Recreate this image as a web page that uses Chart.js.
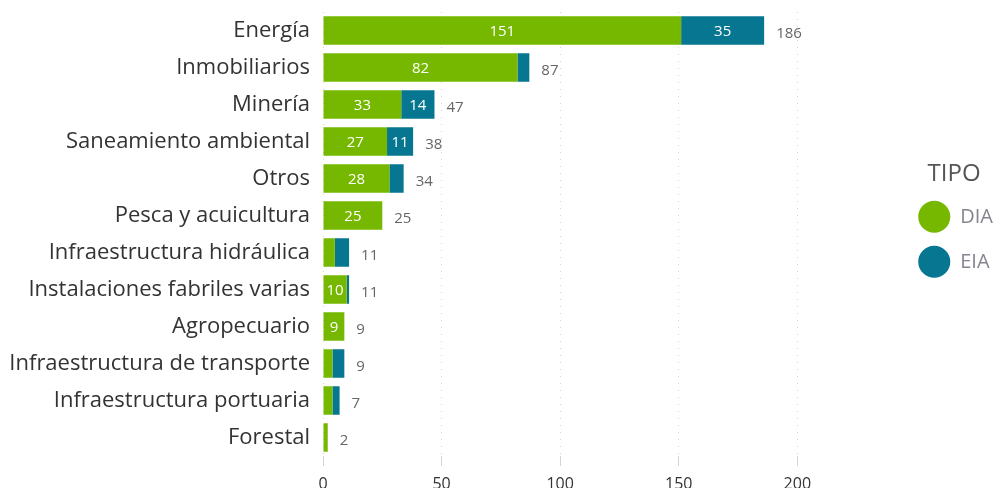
<!DOCTYPE html>
<html><head><meta charset="utf-8">
<script src="https://cdn.jsdelivr.net/npm/chart.js@4.4.1/dist/chart.umd.min.js"></script>
<style>html,body{margin:0;padding:0;background:#fff}#wrap{width:995px;height:488px}</style>
</head><body><div id="wrap"><canvas id="c" width="995" height="488"></canvas></div>
<script>
const categories = ["Energía","Inmobiliarios","Minería","Saneamiento ambiental","Otros","Pesca y acuicultura","Infraestructura hidráulica","Instalaciones fabriles varias","Agropecuario","Infraestructura de transporte","Infraestructura portuaria","Forestal"];
const dia = [151,82,33,27,28,25,5,10,9,4,4,2];
const eia = [35,5,14,11,6,0,6,1,0,5,3,0];
const seriesNames = ["DIA","EIA"];
const xTicks = [0,50,100,150,200];
const xMax = 245.5;
const FONT = "'Open Sans', sans-serif";

const labelPlugin = {
  id: 'labels',
  afterDatasetsDraw(chart) {
    const ctx = chart.ctx;
    ctx.save();
    ctx.font = "15px " + FONT;
    ctx.textBaseline = 'middle';
    chart.data.datasets.forEach((ds, di) => {
      const meta = chart.getDatasetMeta(di);
      meta.data.forEach((bar, i) => {
        const v = ds.data[i];
        if (v >= 9) {
          ctx.fillStyle = '#ffffff';
          ctx.textAlign = 'center';
          ctx.fillText(String(v), (bar.x + bar.base) / 2, bar.y + 1);
        }
      });
    });
    const last = chart.getDatasetMeta(1);
    const xs = chart.scales.x;
    categories.forEach((c, i) => {
      const tot = dia[i] + eia[i];
      ctx.fillStyle = '#666666';
      ctx.textAlign = 'left';
      ctx.fillText(String(tot), xs.getPixelForValue(tot) + 12, last.data[i].y + 3);
    });
    ctx.restore();
  }
};

new Chart(document.getElementById('c'), {
  type: 'bar',
  data: {
    labels: categories,
    datasets: [
      {label: seriesNames[0], data: dia, backgroundColor: '#76b800', barPercentage: 0.77, categoryPercentage: 1},
      {label: seriesNames[1], data: eia, backgroundColor: '#077690', barPercentage: 0.77, categoryPercentage: 1}
    ]
  },
  options: {
    indexAxis: 'y',
    responsive: false,
    animation: false,
    layout: {padding: {left: 0, top: 12, right: -8, bottom: 0}},
    plugins: {
      legend: {
        position: 'right',
        align: 'start',
        title: {display: true, text: 'TIPO', color: '#555', font: {family: FONT, size: 24}, padding: {top: 150, bottom: -3}},
        labels: {boxWidth: 32, boxHeight: 32, useBorderRadius: true, borderRadius: 16, padding: 13, color: '#858590', font: {family: FONT, size: 20},
          generateLabels(chart) {
            return chart.data.datasets.map((ds, i) => ({text: ds.label, fillStyle: ds.backgroundColor, strokeStyle: ds.backgroundColor, lineWidth: 0, fontColor: '#858590', datasetIndex: i, hidden: false, borderRadius: 16}));
          }
        }
      },
      tooltip: {enabled: false}
    },
    scales: {
      x: {
        stacked: true, min: 0, max: xMax,
        afterBuildTicks(s) { s.ticks = xTicks.map(v => ({value: v})); },
        afterFit(s) { s.height = 32; },
        grid: {color: '#d4d4d4', lineWidth: 1, tickLength: 10, drawTicks: true},
        border: {display: false, dash: [1,6]},
        ticks: {color: '#333', font: {family: FONT, size: 16}, padding: 9}
      },
      y: {
        stacked: true,
        afterFit(s) { s.width = 323; s.paddingTop = 0; s.paddingBottom = 0; },
        grid: {display: false},
        border: {display: false},
        ticks: {color: '#333', font: {family: FONT, size: 22}, padding: 5}
      }
    }
  },
  plugins: [labelPlugin]
});
</script>
</body></html>
